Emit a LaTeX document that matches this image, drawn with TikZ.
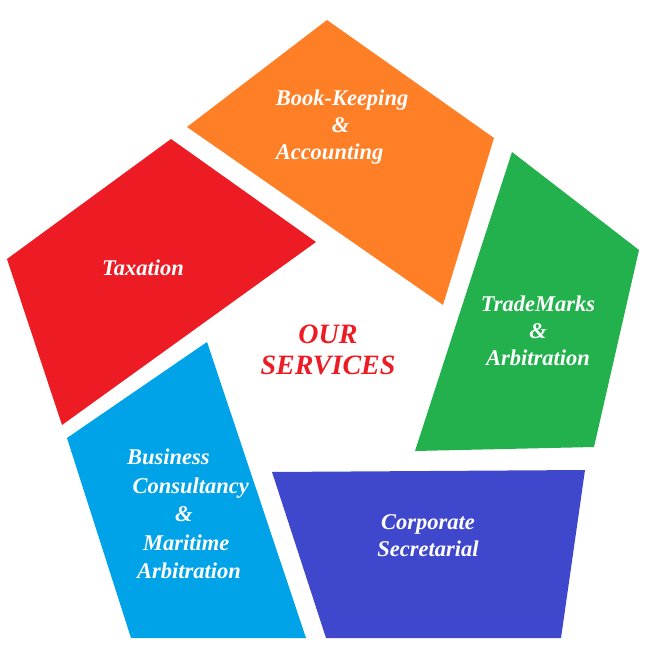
\documentclass[tikz,border=0pt]{standalone}
\usepackage{fontspec}
\setmainfont{Liberation Serif}
\definecolor{cor}{HTML}{FF7F27}
\definecolor{cgr}{HTML}{22B14C}
\definecolor{cbl}{HTML}{3F48CC}
\definecolor{clb}{HTML}{00A2E8}
\definecolor{crd}{HTML}{ED1C24}
\tikzset{lab/.style={text=white,font=\fontsize{22.5}{27}\selectfont\bfseries\itshape,align=center}}
\begin{document}
\begin{tikzpicture}[x=1pt,y=-1pt]
\useasboundingbox (0,0) rectangle (660,660);
\fill[cor] (187,127) -- (327,20) -- (494,138) -- (443,305) -- cycle;
\fill[cgr] (512,152) -- (639,250) -- (594,447) -- (415,451) -- cycle;
\fill[cbl] (272,472) -- (585,470) -- (561,638) -- (326,638) -- cycle;
\fill[clb] (67,438) -- (207,342) -- (306,638) -- (131,638) -- cycle;
\fill[crd] (7,259) -- (171,139) -- (316,242) -- (62,425) -- cycle;
\node[lab,align=left] (bk) at (342,127) {Book-Keeping\\\hspace*{56pt}\&\\Accounting};
\node[lab] (tm) at (538,331) {TradeMarks\\\&\\Arbitration};
\node[lab] (cs) at (428,536) {Corporate\\Secretarial};
\node[lab,align=left,font=\fontsize{22.5}{28.5}\selectfont\bfseries\itshape] (bc) at (188,514) {Business\\\ Consultancy\\\hspace*{48pt}\&\\\hspace*{16pt}Maritime\\\hspace*{10pt}Arbitration};
\node[lab] (tx) at (143,268) {Taxation};
\node[text=crd,font=\fontsize{28}{31}\selectfont\bfseries\itshape,align=center] (os) at (328,350) {OUR\\SERVICES};
\end{tikzpicture}
\end{document}
